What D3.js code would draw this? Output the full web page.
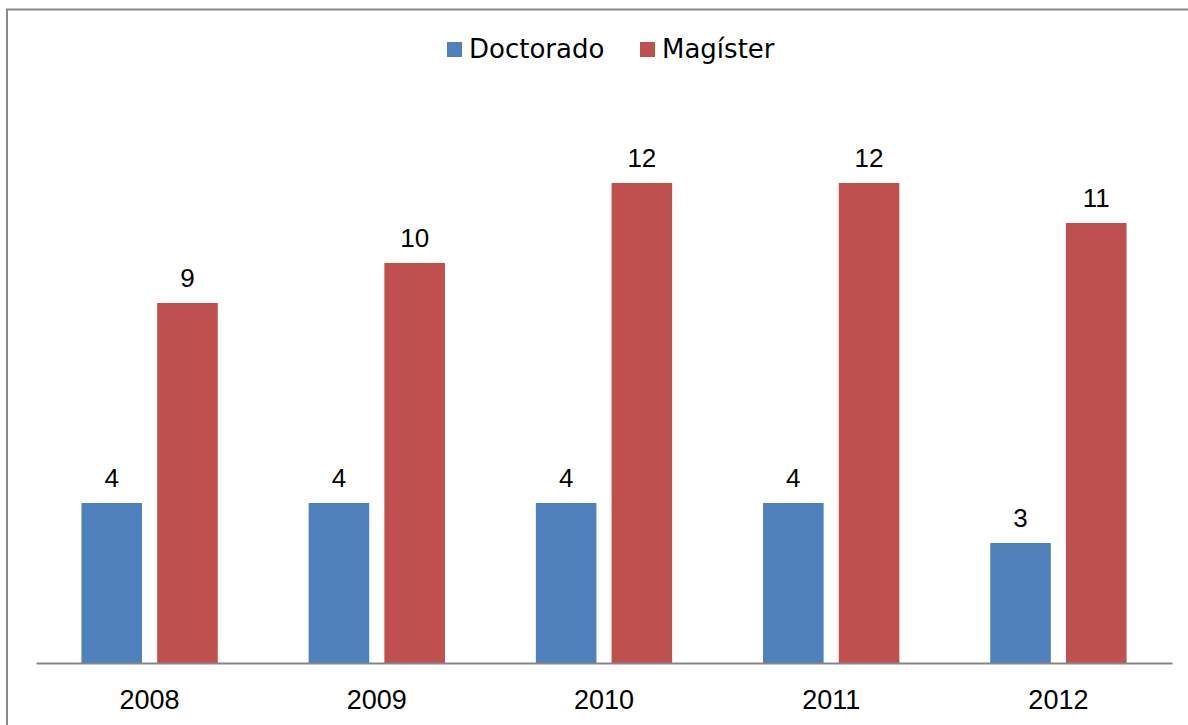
<!DOCTYPE html>
<html>
<head>
<meta charset="utf-8">
<script src="https://cdn.jsdelivr.net/npm/d3@7"></script>
<style>
  body { margin: 0; background: #fff; }
</style>
</head>
<body>
<div id="chart"></div>
<script>
// data
var years = ['2008', '2009', '2010', '2011', '2012'];
var seriesNames = ['Doctorado', 'Magíster'];
var doctorado = [4, 4, 4, 4, 3];
var magister = [9, 10, 12, 12, 11];
var seriesColors = ['#4F81BD', '#C0504D'];

var svgWidth = 1188;
var svgHeight = 725;

// plot area
var plot = { left: 36, right: 1172, top: 103, bottom: 663 };

var svg = d3.select('#chart')
  .append('svg')
  .attr('width', svgWidth)
  .attr('height', svgHeight);

// frame (top and left edges visible)
svg.append('line')
  .attr('x1', 6).attr('x2', svgWidth)
  .attr('y1', 9.5).attr('y2', 9.5)
  .attr('stroke', '#898989').attr('stroke-width', 2);
svg.append('line')
  .attr('x1', 7).attr('x2', 7)
  .attr('y1', 9).attr('y2', svgHeight)
  .attr('stroke', '#898989').attr('stroke-width', 2);

// scales
var x0 = d3.scaleBand()
  .domain(years)
  .range([plot.left, plot.right])
  .paddingInner(0.4)
  .paddingOuter(0.2);

var x1 = d3.scaleBand()
  .domain(seriesNames)
  .range([0, x0.bandwidth()])
  .paddingInner(0.2);

var y = d3.scaleLinear()
  .domain([0, 14])
  .range([plot.bottom, plot.top]);

// rows for drawing
var rows = years.map(function(yr, i) {
  return [
    { year: yr, name: seriesNames[0], value: doctorado[i], color: seriesColors[0] },
    { year: yr, name: seriesNames[1], value: magister[i], color: seriesColors[1] }
  ];
});

var groups = svg.selectAll('g.year')
  .data(rows)
  .enter()
  .append('g')
  .attr('class', 'year')
  .attr('transform', function(d) { return 'translate(' + x0(d[0].year) + ',0)'; });

groups.selectAll('rect')
  .data(function(d) { return d; })
  .enter()
  .append('rect')
  .attr('x', function(d) { return x1(d.name); })
  .attr('y', function(d) { return y(d.value); })
  .attr('width', x1.bandwidth())
  .attr('height', function(d) { return y(0) - y(d.value); })
  .attr('fill', function(d) { return d.color; });

// value labels
groups.selectAll('text.val')
  .data(function(d) { return d; })
  .enter()
  .append('text')
  .attr('class', 'val')
  .attr('x', function(d) { return x1(d.name) + x1.bandwidth() / 2; })
  .attr('y', function(d) { return y(d.value) - 16; })
  .attr('text-anchor', 'middle')
  .style('font-family', '"Liberation Sans", Arial, sans-serif')
  .style('font-size', '26px')
  .style('fill', '#000')
  .text(function(d) { return d.value; });

// category axis
var xAxis = d3.axisBottom(x0).tickSize(0).tickPadding(0).tickSizeOuter(0);
var axisG = svg.append('g')
  .attr('transform', 'translate(0,' + plot.bottom + ')')
  .call(xAxis);
axisG.select('.domain')
  .attr('stroke', '#868686')
  .attr('stroke-width', 2);
axisG.selectAll('text')
  .attr('dy', null)
  .attr('y', 46)
  .style('font-family', '"Liberation Sans", Arial, sans-serif')
  .style('font-size', '27px')
  .style('fill', '#000');

// legend
var legendItems = [
  { name: seriesNames[0], color: seriesColors[0], x: 447 },
  { name: seriesNames[1], color: seriesColors[1], x: 640 }
];
var legend = svg.selectAll('g.legend')
  .data(legendItems)
  .enter()
  .append('g')
  .attr('class', 'legend')
  .attr('transform', function(d) { return 'translate(' + d.x + ',42)'; });
legend.append('rect')
  .attr('width', 15).attr('height', 15)
  .attr('fill', function(d) { return d.color; });
legend.append('text')
  .attr('x', 22)
  .attr('y', 16)
  .style('font-family', '"DejaVu Sans", sans-serif')
  .style('font-size', '26px')
  .style('fill', '#000')
  .text(function(d) { return d.name; });
</script>
</body>
</html>
